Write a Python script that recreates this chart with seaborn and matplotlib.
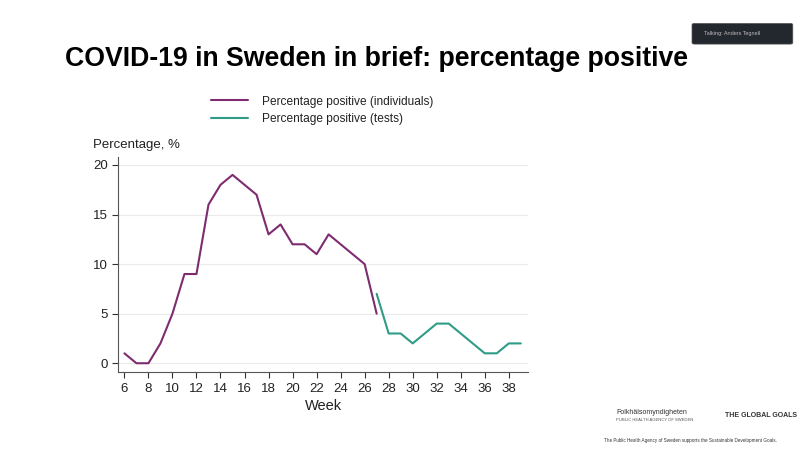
import matplotlib
matplotlib.use("Agg")
import matplotlib.pyplot as plt
import seaborn as sns
import pandas as pd
from matplotlib.patches import FancyBboxPatch
from matplotlib.lines import Line2D

weeks_ind = list(range(6, 28))
pct_ind = [1, 0, 0, 2, 5, 9, 9, 16, 18, 19, 18, 17, 13, 14, 12, 12, 11, 13, 12, 11, 10, 5]
weeks_tests = list(range(27, 40))
pct_tests = [7, 3, 3, 2, 3, 4, 4, 3, 2, 1, 1, 2, 2]
series_names = ["Percentage positive (individuals)", "Percentage positive (tests)"]
x_ticks = list(range(6, 40, 2))
y_ticks = [0, 5, 10, 15, 20]

df = pd.concat([
    pd.DataFrame({"Week": weeks_ind, "Pct": pct_ind, "Series": series_names[0]}),
    pd.DataFrame({"Week": weeks_tests, "Pct": pct_tests, "Series": series_names[1]}),
])

sns.set_theme(style="white")
plt.rcParams['font.family'] = ['Liberation Sans', 'DejaVu Sans']

fig = plt.figure(figsize=(8, 4.5), dpi=100)
fig.patch.set_facecolor("white")
ax = fig.add_axes([0.148, 0.173, 0.512, 0.478])

palette = {series_names[0]: "#7E2C70", series_names[1]: "#2E9C86"}
sns.lineplot(data=df, x="Week", y="Pct", hue="Series", palette=palette, ax=ax,
             linewidth=1.5, legend=False)

ax.set_xlim(5.5, 39.6)
ax.set_ylim(-0.9, 20.8)
ax.set_xticks(x_ticks)
ax.set_yticks(y_ticks)
ax.tick_params(axis="both", direction="out", length=4, width=0.8, colors="#333333",
               labelsize=9.5, labelcolor="#222222", bottom=True, left=True)
ax.grid(axis="y", color="#EAEAEA", linewidth=0.8)
for s in ["top", "right"]:
    ax.spines[s].set_visible(False)
for s in ["left", "bottom"]:
    ax.spines[s].set_color("#555555")
    ax.spines[s].set_linewidth(0.8)
ax.set_xlabel("Week", fontsize=10.5, color="#222222", labelpad=3)
ax.set_ylabel("")

fig.text(0.116, 0.664, "Percentage, %", fontsize=9.5, color="#222222", ha="left", va="bottom")

# legend
handles = [Line2D([0], [0], color=palette[n], lw=1.5) for n in series_names]
fig.legend(handles, series_names, loc="upper left", bbox_to_anchor=(0.253, 0.806),
           frameon=False, fontsize=8.6, handlelength=3.1, handletextpad=1.2,
           labelspacing=0.45, labelcolor="#222222", borderpad=0.2)

fig.text(0.081, 0.870, "COVID-19 in Sweden in brief: percentage positive",
         fontsize=19.2, fontweight="bold", color="black", ha="left", va="center")

# speaker box
box = FancyBboxPatch((0.868, 0.905), 0.12, 0.04, boxstyle="round,pad=0.003",
                     transform=fig.transFigure, facecolor="#23272E", edgecolor="#555555", lw=0.5)
fig.patches.append(box)
fig.text(0.88, 0.925, "Talking: Anders Tegnell", fontsize=4, color="#BBBBBB", va="center")

# footer text (logos approximated as text)
fig.text(0.77, 0.083, "Folkhälsomyndigheten", fontsize=5, color="#333333", va="center")
fig.text(0.77, 0.066, "PUBLIC HEALTH AGENCY OF SWEDEN", fontsize=3, color="#555555", va="center")
fig.text(0.906, 0.077, "THE GLOBAL GOALS", fontsize=5, fontweight="bold", color="#333333", va="center")
fig.text(0.755, 0.022, "The Public Health Agency of Sweden supports the Sustainable Development Goals.",
         fontsize=3.3, color="#333333", va="center")

fig.savefig("out.png", dpi=100, facecolor="white")
